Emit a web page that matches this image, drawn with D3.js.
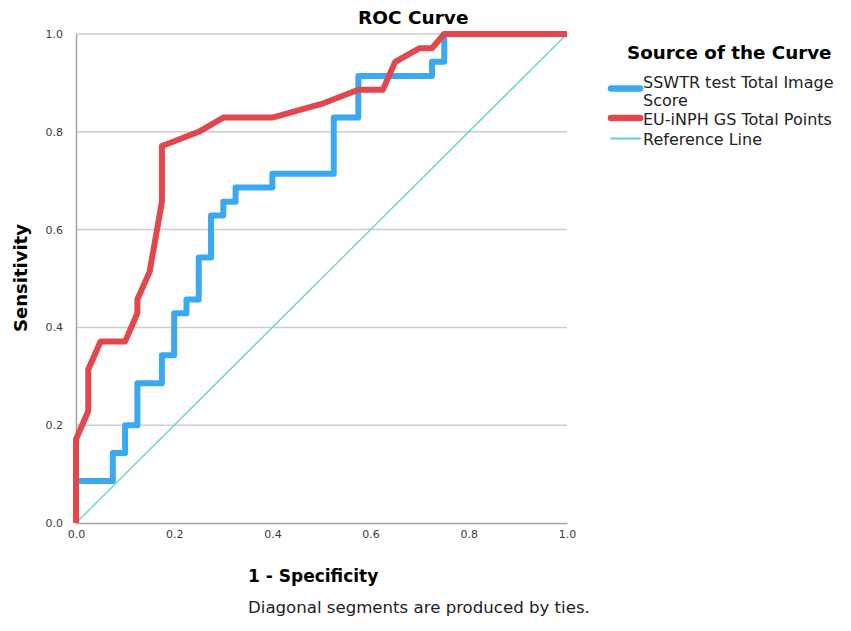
<!DOCTYPE html>
<html>
<head>
<meta charset="utf-8">
<script src="https://cdn.jsdelivr.net/npm/d3@7"></script>
<style>
  body { margin: 0; background: #fff; }
  svg { font-family: "DejaVu Sans", sans-serif; }
  .grid line { stroke: #cdcdcd; stroke-width: 1.5; }
  .axis path, .axis line { stroke: #a4a4a4; stroke-width: 1.5; }
  .axis text { fill: #3a3a3a; font-size: 11px; font-family: "DejaVu Sans", sans-serif; }
</style>
</head>
<body>
<svg class="roc" width="851" height="631"></svg>
<script>
// values: 1 - specificity (fpr) and sensitivity (tpr)
const ssFpr = [0, 0, 0.075, 0.075, 0.1, 0.1, 0.125, 0.125, 0.175, 0.175, 0.2, 0.2, 0.225, 0.225, 0.25, 0.25, 0.275, 0.275, 0.3, 0.3, 0.325, 0.325, 0.4, 0.4, 0.525, 0.525, 0.575, 0.575, 0.725, 0.725, 0.75, 0.75, 1];
const ssTpr = [0, 0.086, 0.086, 0.143, 0.143, 0.2, 0.2, 0.286, 0.286, 0.343, 0.343, 0.429, 0.429, 0.457, 0.457, 0.543, 0.543, 0.629, 0.629, 0.657, 0.657, 0.686, 0.686, 0.714, 0.714, 0.829, 0.829, 0.914, 0.914, 0.943, 0.943, 1, 1];
const euFpr = [0, 0, 0.025, 0.025, 0.05, 0.1, 0.125, 0.125, 0.15, 0.175, 0.175, 0.25, 0.3, 0.4, 0.5, 0.575, 0.625, 0.65, 0.7, 0.725, 0.75, 1];
const euTpr = [0, 0.171, 0.229, 0.314, 0.371, 0.371, 0.429, 0.457, 0.514, 0.657, 0.771, 0.8, 0.829, 0.829, 0.857, 0.886, 0.886, 0.943, 0.971, 0.971, 1, 1];
const refFpr = [0, 1];
const refTpr = [0, 1];
const ticks = [0, 0.2, 0.4, 0.6, 0.8, 1.0];
const seriesNames = ["SSWTR test Total Image Score", "EU-iNPH GS Total Points", "Reference Line"];
const seriesColors = ["#3aa9f2", "#e2474d", "#5fd3cf"];

(function rocIIFE() {
    let svg = d3.select("svg.roc");
    let margin = {top: 34, left: 76};
    let width = 491, height = 489;

    let x = d3.scaleLinear().domain([0, 1]).range([0, width]),
        y = d3.scaleLinear().domain([0, 1]).range([height, 0]);

    let g = svg.append("g").attr("transform", "translate(" + margin.left + "," + margin.top + ")");

    //horizontal grid lines
    g.append("g")
        .attr("class", "grid")
        .selectAll("line")
        .data(ticks.slice(1))
        .enter()
        .append("line")
        .attr("x1", 0).attr("x2", width)
        .attr("y1", d => y(d)).attr("y2", d => y(d));

    //axes
    g.append("g")
        .attr("class", "axis x-axis")
        .attr("transform", "translate(0," + height + ")")
        .call(d3.axisBottom(x).tickValues(ticks).tickFormat(d3.format(".1f")).tickSize(0).tickPadding(7));
    g.append("g")
        .attr("class", "axis y-axis")
        .call(d3.axisLeft(y).tickValues(ticks).tickFormat(d3.format(".1f")).tickSize(0).tickPadding(13));

    let line = d3.line().x(d => x(d[0])).y(d => y(d[1]));
    let series = [
        d3.zip(ssFpr, ssTpr),
        d3.zip(euFpr, euTpr),
        d3.zip(refFpr, refTpr)
    ];
    let widths = [6, 6, 1.3];

    //reference first, then the curves
    [2, 0, 1].forEach(function(i) {
        g.append("path")
            .datum(series[i])
            .attr("fill", "none")
            .attr("stroke", seriesColors[i])
            .attr("stroke-width", widths[i])
            .attr("stroke-linejoin", "round")
            .attr("d", line);
    });

    //titles
    svg.append("text")
        .attr("x", 358).attr("y", 24)
        .style("font-weight", "bold").style("font-size", "18.5px")
        .text("ROC Curve");
    svg.append("text")
        .attr("x", 248).attr("y", 582)
        .style("font-weight", "bold").style("font-size", "17px")
        .text("1 - Specificity");
    svg.append("text")
        .attr("transform", "translate(27,278) rotate(-90)")
        .attr("text-anchor", "middle")
        .style("font-weight", "bold").style("font-size", "18px")
        .text("Sensitivity");
    svg.append("text")
        .attr("x", 248).attr("y", 613)
        .style("font-size", "16.6px")
        .style("fill", "#222")
        .text("Diagonal segments are produced by ties.");

    //legend
    let lg = svg.append("g").attr("transform", "translate(608,0)");
    lg.append("text")
        .attr("x", 19).attr("y", 59)
        .style("font-weight", "bold").style("font-size", "18.3px")
        .text("Source of the Curve");
    let rows = [
        {i: 0, ly: 88.5, lines: ["SSWTR test Total Image", "Score"], ty: 87.5},
        {i: 1, ly: 118, lines: [seriesNames[1]], ty: 124.5},
        {i: 2, ly: 138.5, lines: [seriesNames[2]], ty: 145}
    ];
    rows.forEach(function(r) {
        lg.append("line")
            .attr("x1", 3).attr("x2", 32)
            .attr("y1", r.ly).attr("y2", r.ly)
            .attr("stroke", seriesColors[r.i])
            .attr("stroke-width", r.i < 2 ? 6.5 : 2)
            .attr("stroke-linecap", "round");
        let t = lg.append("text")
            .attr("x", 35).attr("y", r.ty)
            .style("font-size", "16px")
            .style("fill", "#222");
        r.lines.forEach(function(s, k) {
            t.append("tspan")
                .attr("x", 35)
                .attr("dy", k === 0 ? 0 : 18.5)
                .text(s);
        });
    });
})();
</script>
</body>
</html>
